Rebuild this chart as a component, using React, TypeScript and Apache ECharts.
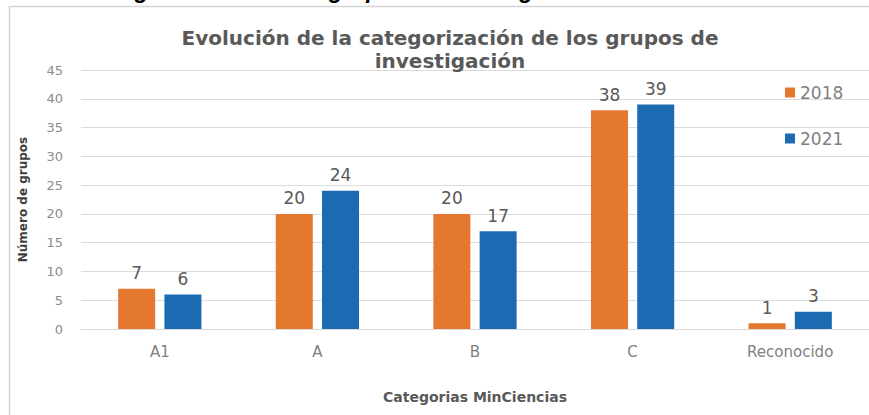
import React, { useEffect, useRef } from "react";
import * as echarts from "echarts";

const categories = ["A1", "A", "B", "C", "Reconocido"];
const values2018 = [7, 20, 20, 38, 1];
const values2021 = [6, 24, 17, 39, 3];
const seriesNames = ["2018", "2021"];
const yTicks = { min: 0, max: 45, interval: 5 };

const FONT = "'DejaVu Sans', 'Noto Sans', sans-serif";

export default function App() {
  const ref = useRef<HTMLDivElement>(null);
  useEffect(() => {
    if (!ref.current) return;
    const chart = echarts.init(ref.current, null, { renderer: "svg" });
    chart.setOption({
      animation: false,
      backgroundColor: "#ffffff",
      textStyle: { fontFamily: FONT },
      title: {
        text: "Evolución de la categorización de los grupos de\ninvestigación",
        left: 445,
        top: 21,
        textAlign: "center",
        textStyle: {
          fontFamily: FONT,
          fontSize: 20,
          fontWeight: "bold",
          color: "#595959",
          lineHeight: 23,
        },
      },
      graphic: [
        {
          type: "rect",
          shape: { x: 9.5, y: 6.5, width: 900, height: 500 },
          style: { fill: "none", stroke: "#d4d4d4", lineWidth: 1.5 },
          silent: true,
          z: -1,
        },
        {
          type: "text",
          x: 85,
          y: -10,
          style: {
            text: "Categorización de los grupos de investigación",
            fontFamily: "'Liberation Sans', sans-serif",
            fontSize: 23,
            fontWeight: "bold",
            fontStyle: "italic",
            fill: "#000000",
            verticalAlign: "middle",
          },
          silent: true,
        },
      ],
      legend: {
        orient: "vertical",
        left: 780,
        top: 79,
        itemWidth: 10,
        itemHeight: 10,
        itemGap: 29,
        icon: "rect",
        textStyle: { fontFamily: FONT, fontSize: 17, color: "#7f7f7f" },
        data: seriesNames,
      },
      grid: { left: 81, right: 0, top: 70, bottom: 86, containLabel: false },
      xAxis: {
        type: "category",
        data: categories,
        axisLine: { lineStyle: { color: "#d9d9d9" } },
        axisTick: { show: false },
        axisLabel: { color: "#7f7f7f", fontSize: 15, margin: 15, fontFamily: FONT },
        name: "Categorias MinCiencias",
        nameLocation: "middle",
        nameGap: 61,
        nameTextStyle: { fontFamily: FONT, fontSize: 14, fontWeight: "bold", color: "#595959" },
      },
      yAxis: {
        type: "value",
        min: yTicks.min,
        max: yTicks.max,
        interval: yTicks.interval,
        axisLine: { show: false },
        axisTick: { show: false },
        splitLine: { lineStyle: { color: "#dcdcdc" } },
        axisLabel: { color: "#8c8c8c", fontSize: 13, margin: 18, fontFamily: FONT },
        name: "Número de grupos",
        nameLocation: "middle",
        nameGap: 52,
        nameRotate: 90,
        nameTextStyle: { fontFamily: FONT, fontSize: 12, fontWeight: "bold", color: "#404040" },
      },
      series: [
        {
          name: seriesNames[0],
          type: "bar",
          data: values2018,
          barWidth: 37,
          barGap: "25%",
          itemStyle: { color: "#E4782F" },
          label: { show: true, position: "top", distance: 7, fontSize: 17, color: "#595959", fontFamily: FONT },
        },
        {
          name: seriesNames[1],
          type: "bar",
          data: values2021,
          barWidth: 37,
          barGap: "25%",
          itemStyle: { color: "#1C6AB2" },
          label: { show: true, position: "top", distance: 7, fontSize: 17, color: "#595959", fontFamily: FONT },
        },
      ],
    });
    return () => chart.dispose();
  }, []);
  return (
    <div
      ref={ref}
      style={{ position: "absolute", left: 0, top: 0, width: 869, height: 415 }}
    />
  );
}
